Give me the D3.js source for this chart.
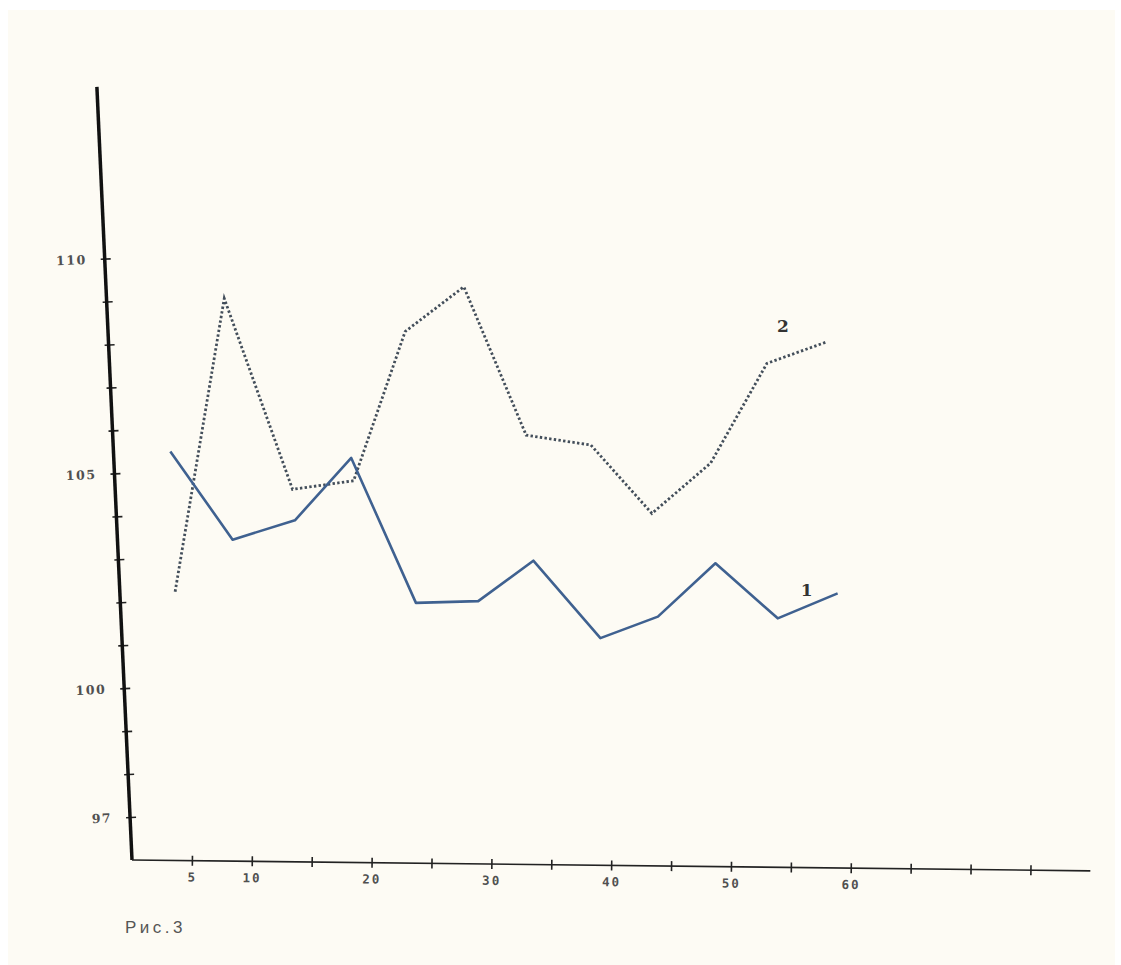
<!DOCTYPE html>
<html><head><meta charset="utf-8">
<script src="https://cdn.jsdelivr.net/npm/d3@7"></script>
<style>html,body{margin:0;padding:0;background:#fff;}svg{display:block;}</style>
</head><body>
<script>
// ---- data ----
const s1X = [3.2, 8.4, 13.6, 18.3, 23.7, 28.9, 33.5, 39.1, 43.9, 48.7, 53.9, 58.9];
const s1Y = [105.5, 103.45, 103.9, 105.35, 101.98, 102.02, 102.96, 101.16, 101.66, 102.9, 101.62, 102.2];
const s2X = [3.6, 7.7, 13.4, 18.5, 22.8, 27.7, 32.9, 38.3, 43.4, 48.3, 53.0, 58.0];
const s2Y = [102.24, 109.06, 104.62, 104.82, 108.29, 109.33, 105.88, 105.65, 104.06, 105.23, 107.55, 108.05];
const xTicks = [5, 10, 15, 20, 25, 30, 35, 40, 45, 50, 55, 60, 65, 70, 75];
const xTickLabels = {5: "5", 10: "10", 20: "20", 30: "30", 40: "40", 50: "50", 60: "60"};
const yTicks = [97, 98, 99, 100, 101, 102, 103, 104, 105, 106, 107, 108, 109, 110];
const yTickLabels = {97: "97", 100: "100", 105: "105", 110: "110"};
const seriesLabels = ["1", "2"];
const caption = "Рис.3";

const W = 1121, H = 965;
const svg = d3.select("body").append("svg").attr("width", W).attr("height", H);
svg.append("rect").attr("x", 0).attr("y", 0).attr("width", W).attr("height", H).attr("fill", "#ffffff");
svg.append("rect").attr("x", 8).attr("y", 10).attr("width", 1107).attr("height", 955).attr("fill", "#fdfbf4");

const ox = 132, oy = 860;
const x = d3.scaleLinear().domain([0, 80]).range([ox, ox + 80 * 11.98]);
const y = d3.scaleLinear().domain([96, 114]).range([oy, oy - 18 * 43]);

// Y axis (slightly slanted like the scan)
const gy = svg.append("g")
  .attr("transform", `rotate(-2.6, ${ox}, ${oy}) translate(${ox},0)`)
  .call(d3.axisLeft(y).tickValues(yTicks).tickSize(5).tickFormat(d => yTickLabels[d] || ""));
gy.select(".domain").remove();
gy.append("line").attr("x1", 0).attr("x2", 0).attr("y1", y(96)).attr("y2", y(114))
  .attr("stroke", "#111").attr("stroke-width", 3.5);
gy.selectAll(".tick line").attr("x1", -4).attr("x2", 6).attr("stroke", "#222").attr("stroke-width", 1.6);
gy.selectAll(".tick text").attr("x", -18)
  .attr("font-family", "'DejaVu Serif', serif").attr("font-size", 12.5).attr("font-weight", "bold")
  .attr("letter-spacing", 1.5).attr("fill", "#505050");

// X axis (slightly tilted)
const gx = svg.append("g")
  .attr("transform", `rotate(0.65, ${ox}, ${oy}) translate(0,${oy})`)
  .call(d3.axisBottom(x).tickValues(xTicks).tickSize(5).tickFormat(d => xTickLabels[d] || ""));
gx.select(".domain").remove();
gx.append("line").attr("x1", ox).attr("x2", x(80)).attr("y1", 0).attr("y2", 0)
  .attr("stroke", "#222").attr("stroke-width", 1.6);
gx.selectAll(".tick line").attr("y1", -5).attr("y2", 5).attr("stroke", "#222").attr("stroke-width", 1.6);
gx.selectAll(".tick text").attr("y", 12)
  .attr("font-family", "'DejaVu Sans Mono', monospace").attr("font-size", 12.5).attr("font-weight", "bold")
  .attr("letter-spacing", 2).attr("fill", "#505050");

const line = d3.line().x(d => x(d[0])).y(d => y(d[1]));
const d1 = s1X.map((v, i) => [v, s1Y[i]]);
const d2 = s2X.map((v, i) => [v, s2Y[i]]);

svg.append("path").datum(d2).attr("d", line).attr("fill", "none")
  .attr("stroke", "#434e5a").attr("stroke-width", 2.8).attr("stroke-dasharray", "2.4,2.3");
svg.append("path").datum(d1).attr("d", line).attr("fill", "none")
  .attr("stroke", "#3f6190").attr("stroke-width", 2.6).attr("stroke-linejoin", "round");

// series labels
svg.append("text").attr("x", x(s1X[11]) - 31).attr("y", y(s1Y[11]) + 3)
  .attr("font-family", "'DejaVu Serif', serif").attr("font-size", 17).attr("font-weight", "bold")
  .attr("fill", "#333").attr("text-anchor", "middle").text(seriesLabels[0]);
svg.append("text").attr("x", x(s2X[11]) - 44).attr("y", y(s2Y[11]) - 10)
  .attr("font-family", "'DejaVu Serif', serif").attr("font-size", 17).attr("font-weight", "bold")
  .attr("fill", "#333").attr("text-anchor", "middle").text(seriesLabels[1]);

// caption
svg.append("text").attr("x", 125).attr("y", 933)
  .attr("font-family", "'Liberation Sans', sans-serif").attr("font-size", 17).attr("letter-spacing", 3.5)
  .attr("fill", "#555").text(caption);
</script>
</body></html>
